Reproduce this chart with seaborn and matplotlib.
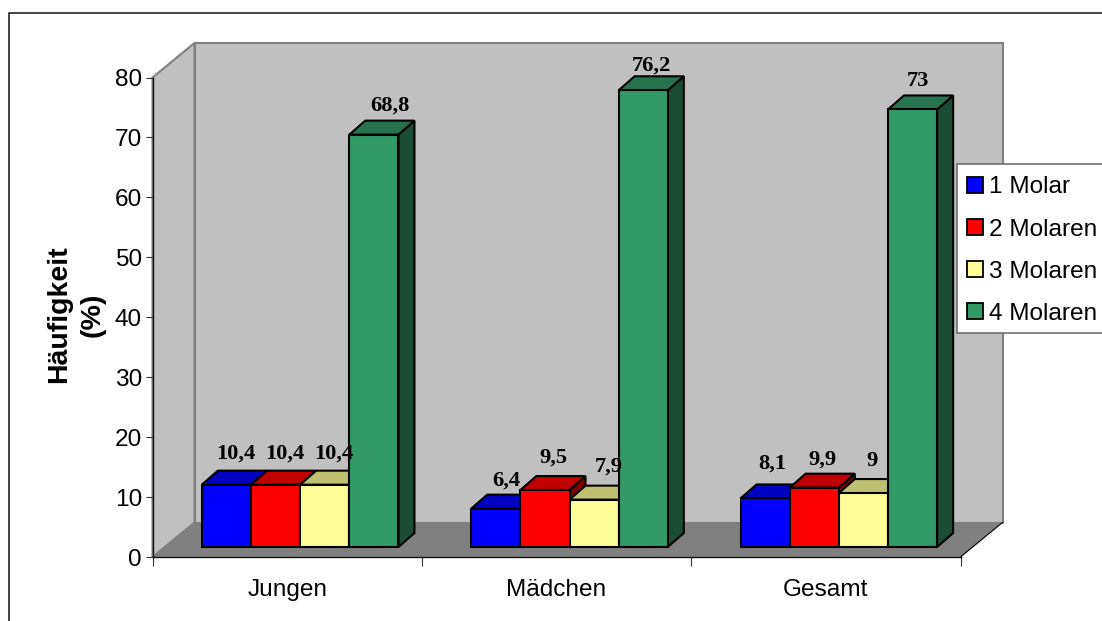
import matplotlib
matplotlib.use("Agg")
import matplotlib.pyplot as plt
from matplotlib.patches import Polygon, Rectangle
from matplotlib.lines import Line2D
import pandas as pd
import seaborn as sns

# Prevalence of affected first molars by group
groups = ["Jungen", "Mädchen", "Gesamt"]
series = ["1 Molar", "2 Molaren", "3 Molaren", "4 Molaren"]
molar_1 = [10.4, 6.4, 8.1]
molar_2 = [10.4, 9.5, 9.9]
molar_3 = [10.4, 7.9, 9.0]
molar_4 = [68.8, 76.2, 73.0]
y_ticks = [0, 10, 20, 30, 40, 50, 60, 70, 80]

front_colors = ["#0000FF", "#FF0000", "#FFFF99", "#339966"]
top_colors = ["#0000C0", "#C00000", "#C0C073", "#26734D"]
side_colors = ["#000080", "#800000", "#808040", "#1A4D33"]

W, H = 1102, 621
sns.set_theme(style="ticks")
plt.rcParams["font.family"] = ["Liberation Sans", "DejaVu Sans"]
plt.rcParams["text.color"] = "black"

fig = plt.figure(figsize=(W / 100, H / 100), dpi=100, facecolor="white")
ax_left, ax_right, ax_top, ax_bottom = 152.5, 960.5, 77.5, 557.0
ax = fig.add_axes([ax_left / W, 1 - ax_bottom / H,
                   (ax_right - ax_left) / W, (ax_bottom - ax_top) / H])
ax.patch.set_alpha(0)

table = pd.DataFrame({"Gruppe": groups, series[0]: molar_1, series[1]: molar_2,
                      series[2]: molar_3, series[3]: molar_4})
long = table.melt(id_vars="Gruppe", var_name="Serie", value_name="Wert")
sns.barplot(data=long, x="Gruppe", y="Wert", hue="Serie", order=groups,
            hue_order=series, palette=front_colors, saturation=1, width=0.73,
            gap=0, legend=False, ax=ax, edgecolor="black", linewidth=1.5)
ax.set_xlim(-0.5, 2.5)
ax.set_ylim(0, 80)

# Pixel distances of the oblique projection expressed in data units
px_x = 3.0 / (ax_right - ax_left)
px_y = 80.0 / (ax_bottom - ax_top)
def ox(px):
    return px * px_x
def oy(px):
    return px * px_y

# Back wall, side wall and floor of the box
wall_dx, wall_dy = ox(42), oy(34.5)
x0, x1 = -0.5, 2.5
wall = dict(facecolor="#C0C0C0", edgecolor="#808080", linewidth=1.5, clip_on=False, zorder=0.5)
ax.add_patch(Polygon([(x0 + wall_dx, wall_dy), (x1 + wall_dx, wall_dy),
                      (x1 + wall_dx, 80 + wall_dy), (x0 + wall_dx, 80 + wall_dy)], **wall))
ax.add_patch(Polygon([(x0, 0), (x0 + wall_dx, wall_dy),
                      (x0 + wall_dx, 80 + wall_dy), (x0, 80)], **wall))
ax.add_patch(Polygon([(x0, 0), (x1, 0), (x1 + wall_dx, wall_dy), (x0 + wall_dx, wall_dy)],
                     facecolor="#808080", edgecolor="none", clip_on=False, zorder=0.6))
ax.add_line(Line2D([x1, x1 + wall_dx], [0, wall_dy], color="black", lw=0.8,
                   clip_on=False, zorder=0.7))

# Extrude each bar: front face moved into the box, then top and side faces
front_dx, front_dy = ox(13), oy(10)
depth_dx, depth_dy = ox(16), oy(14)
edge = dict(edgecolor="black", linewidth=1.5, clip_on=False, joinstyle="miter")
label_items = []
for s_idx, container in enumerate(ax.containers):
    for g_idx, bar in enumerate(container):
        value = bar.get_height()
        z = 2 + g_idx * 10 + s_idx
        left = bar.get_x() + front_dx
        right = left + bar.get_width()
        low = front_dy
        high = value + front_dy
        bar.set_x(left)
        bar.set_y(low)
        bar.set_clip_on(False)
        bar.set_zorder(z + 0.2)
        ax.add_patch(Polygon([(right, low), (right + depth_dx, low + depth_dy),
                              (right + depth_dx, high + depth_dy), (right, high)],
                             facecolor=side_colors[s_idx], zorder=z, **edge))
        ax.add_patch(Polygon([(left, high), (right, high), (right + depth_dx, high + depth_dy),
                              (left + depth_dx, high + depth_dy)],
                             facecolor=top_colors[s_idx], zorder=z + 0.1, **edge))
        label_items.append((s_idx, g_idx, left + bar.get_width() / 2, high + depth_dy, value))

# Value labels, with small per-label shifts in pixels
label_dx = [[9, 9, 9, 16], [10, 9, 15, 8.5], [7, 8, 9, 5]]
label_dy = [[17, 17, 17, 15], [14, 18, 19, 11], [21, 14, 18, 14]]
for s_idx, g_idx, cx, top, value in label_items:
    text = f"{value:g}".replace(".", ",")
    ax.text(cx + ox(label_dx[g_idx][s_idx]), top + oy(label_dy[g_idx][s_idx]), text,
            ha="center", va="center", family=["Liberation Serif"], fontweight="bold",
            fontsize=16.2, color="black", clip_on=False, zorder=100)

# Axes, ticks and category labels
sns.despine(ax=ax, top=True, right=True)
for side in ("left", "bottom"):
    ax.spines[side].set_color("#111111")
    ax.spines[side].set_linewidth(1.0)
    ax.spines[side].set_zorder(1)
ax.set_yticks(y_ticks)
ax.tick_params(axis="y", length=5, width=0.8, color="#333333", pad=2.6, labelsize=17.6,
               labelcolor="black")
ax.set_xticks([-0.5, 0.5, 1.5, 2.5])
ax.set_xticklabels([])
ax.tick_params(axis="x", which="major", length=6.2, width=0.8, color="#333333")
ax.set_xticks([0, 1, 2], minor=True)
ax.set_xticklabels(groups, minor=True)
ax.tick_params(axis="x", which="minor", length=0, pad=16, labelsize=17.6, labelcolor="black")
ax.set_xlabel("")
ax.set_ylabel("")
fig.text(76 / W, 1 - 314.5 / H, "Häufigkeit\n(%)", rotation=90, ha="center", va="center",
         multialignment="center", fontweight="bold", fontsize=20.5, color="black",
         linespacing=1.4)

# Outer frame runs past the right and bottom edges of the canvas
fig.add_artist(Rectangle((8.5 / W, -0.05), (W + 50) / W, 1 - 12.5 / H + 0.05,
                         transform=fig.transFigure, facecolor="none",
                         edgecolor="#111111", linewidth=1.1))

# Legend box and entries
ax.add_patch(Rectangle((956.5 / W, 1 - 333 / H), 160 / W, 169 / H, transform=fig.transFigure,
                       facecolor="white", edgecolor="#666666", linewidth=1.1,
                       clip_on=False, zorder=199))
handles = [Rectangle((0, 0), 1, 1, facecolor=c, edgecolor="black", linewidth=1.3)
           for c in front_colors]
leg = ax.legend(handles, series, loc="upper left",
                bbox_to_anchor=(966.5 / W, 1 - 176.5 / H), bbox_transform=fig.transFigure,
                borderaxespad=0, borderpad=0, frameon=False, fontsize=17.6,
                handlelength=0.66, handleheight=0.66, handletextpad=0.25, labelspacing=0.82)
leg.set_zorder(200)

fig.savefig("out.png", dpi=100, facecolor="white")
